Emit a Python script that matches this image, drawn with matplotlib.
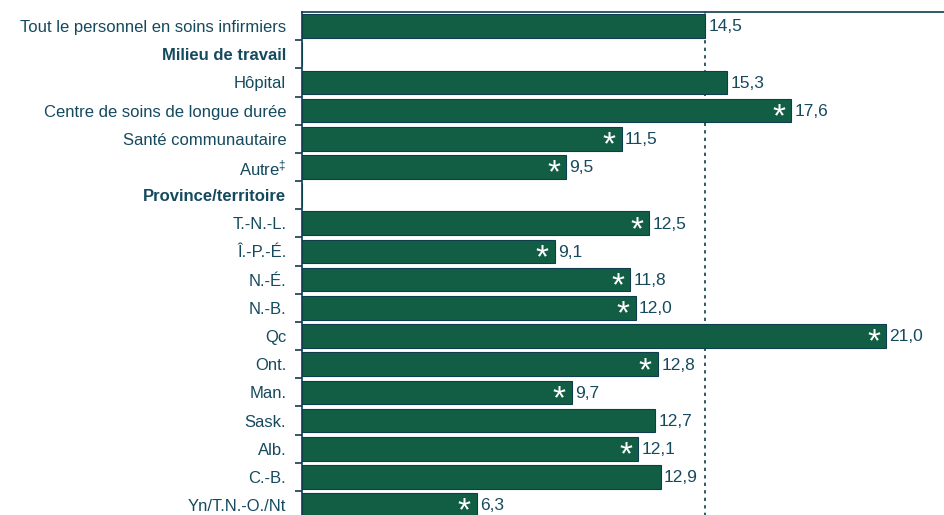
import numpy as np
import matplotlib
matplotlib.use('Agg')
import matplotlib.pyplot as plt

plt.rcParams['font.family'] = ['Liberation Sans', 'DejaVu Sans']
plt.rcParams['mathtext.fontset'] = 'custom'
plt.rcParams['mathtext.rm'] = 'Liberation Sans'
plt.rcParams['mathtext.it'] = 'Liberation Sans'

labels = ['Tout le personnel en soins infirmiers', 'Milieu de travail', 'Hôpital',
          'Centre de soins de longue durée', 'Santé communautaire', 'Autre$^{‡}$',
          'Province/territoire', 'T.-N.-L.', 'Î.-P.-É.', 'N.-É.', 'N.-B.', 'Qc',
          'Ont.', 'Man.', 'Sask.', 'Alb.', 'C.-B.', 'Yn/T.N.-O./Nt']
values = [14.5, np.nan, 15.3, 17.6, 11.5, 9.5, np.nan, 12.5, 9.1, 11.8, 12.0, 21.0,
          12.8, 9.7, 12.7, 12.1, 12.9, 6.3]
signif = [False, False, False, True, True, True, False, True, True, True, True, True,
          True, True, False, True, False, True]
headers = ['Milieu de travail', 'Province/territoire']

bar_color = '#115e45'
edge_color = '#0e3d4f'
text_color = '#154a5e'

fig = plt.figure(figsize=(9.44, 5.15), dpi=100)
ax = fig.add_axes([0.3194, -0.008, 0.6806, 0.9847])

y = np.arange(len(labels))
vals = np.nan_to_num(np.array(values))
ax.barh(y, vals, height=0.84, color=bar_color, edgecolor=edge_color, lw=0.8, zorder=3)

ax.axvline(values[0], color=edge_color, ls=(0, (2, 2.5)), lw=1.2, zorder=1)

for yi, v, s in zip(y, values, signif):
    if np.isnan(v):
        continue
    ax.text(v + 0.12, yi + 0.03, f'{v:.1f}'.replace('.', ','), va='center', ha='left',
            fontsize=12.5, color=text_color, zorder=4)
    if s:
        # mathtext gives a tight box round the glyph
        ax.text(v - 0.18, yi + 0.22, r'$*$', va='center', ha='right', fontsize=24,
                color='white', zorder=4)

ax.set_xlim(0, 23.08)
ax.set_ylim(len(labels) - 0.5, -0.5)

ax.set_yticks(y)
ax.set_yticklabels(labels, fontsize=12, color=text_color)
for t in ax.get_yticklabels():
    if t.get_text() in headers:
        t.set_fontweight('bold')
ax.set_yticks(np.arange(len(labels) - 1) + 0.5, minor=True)
ax.tick_params(axis='y', which='major', length=0, pad=11)
ax.tick_params(axis='y', which='minor', length=5, width=1.2, color=edge_color, direction='out')
ax.set_xticks([])

for side in ['right', 'bottom']:
    ax.spines[side].set_visible(False)
ax.spines['left'].set_color(edge_color)
ax.spines['left'].set_linewidth(1.2)
ax.spines['top'].set_color(edge_color)
ax.spines['top'].set_linewidth(1.2)

plt.savefig('out.png', dpi=100)
